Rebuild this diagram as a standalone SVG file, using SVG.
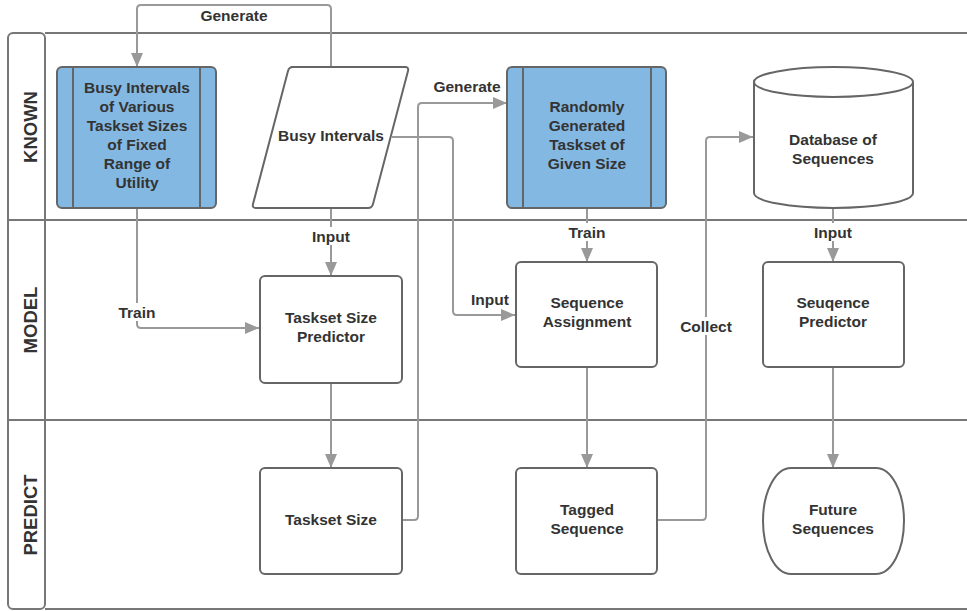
<svg xmlns="http://www.w3.org/2000/svg" width="967" height="611" viewBox="0 0 967 611">
<defs>
<style>
.lane{fill:none;stroke:#777;stroke-width:2}
.lanet{font-family:"Liberation Sans",Arial,sans-serif;font-weight:bold;font-size:18.5px;fill:#333;text-anchor:middle;dominant-baseline:central}
.box{fill:#fff;stroke:#666;stroke-width:2}
.blue{fill:#83b8e2;stroke:#666;stroke-width:2}
.t{font-family:"Liberation Sans",Arial,sans-serif;font-weight:bold;font-size:15.5px;fill:#333;text-anchor:middle;dominant-baseline:central}
.c{fill:none;stroke:#999;stroke-width:2;stroke-linejoin:round}
.lb{fill:#fff}
</style>
<marker id="ah" markerUnits="userSpaceOnUse" markerWidth="15" markerHeight="12" refX="14" refY="6" orient="auto">
<path d="M0,0 L14,6 L0,12 Z" fill="#999"/>
</marker>
</defs>
<rect width="967" height="611" fill="#fff"/>

<g id="lanes">
<rect class="lane" x="8" y="33" width="37" height="576" rx="5"/>
<path class="lane" d="M45,33 H969 M45,609 H969 M8,220 H969 M8,420 H969"/>
<text class="lanet" transform="translate(30,127) rotate(-90)">KNOWN</text>
<text class="lanet" transform="translate(30,320) rotate(-90)">MODEL</text>
<text class="lanet" transform="translate(30,515) rotate(-90)">PREDICT</text>
</g>

<g id="connectors">
<path class="c" d="M331,67 V9 Q331,5 327,5 H141 Q137,5 137,9 V67" marker-end="url(#ah)"/>
<path class="c" d="M402,520 H414 Q418,520 418,516 V107 Q418,103 422,103 H507" marker-end="url(#ah)"/>
<path class="c" d="M392,137 H449 Q453,137 453,141 V311 Q453,315 457,315 H515" marker-end="url(#ah)"/>
<path class="c" d="M331,208 V276" marker-end="url(#ah)"/>
<path class="c" d="M137,208 V324 Q137,328 141,328 H259" marker-end="url(#ah)"/>
<path class="c" d="M331,383 V468" marker-end="url(#ah)"/>
<path class="c" d="M587,208 V262" marker-end="url(#ah)"/>
<path class="c" d="M587,367 V468" marker-end="url(#ah)"/>
<path class="c" d="M657,520 H702 Q706,520 706,516 V141 Q706,137 710,137 H753" marker-end="url(#ah)"/>
<path class="c" d="M833,208 V262" marker-end="url(#ah)"/>
<path class="c" d="M833,367 V468" marker-end="url(#ah)"/>
<text class="t" x="234" y="15">Generate</text>
<text class="t" x="467" y="86">Generate</text>
<rect class="lb" x="309" y="227" width="44" height="18"/>
<text class="t" x="331" y="236">Input</text>
<rect class="lb" x="116" y="303" width="42" height="18"/>
<text class="t" x="137" y="312">Train</text>
<text class="t" x="490" y="299">Input</text>
<rect class="lb" x="565" y="223" width="44" height="18"/>
<text class="t" x="587" y="232">Train</text>
<rect class="lb" x="678" y="317" width="56" height="18"/>
<text class="t" x="706" y="326">Collect</text>
<rect class="lb" x="811" y="223" width="44" height="18"/>
<text class="t" x="833" y="232">Input</text>
</g>

<g id="busy-intervals-various">
<rect class="blue" x="57" y="67" width="159" height="141" rx="5"/>
<path d="M73,67 V208 M200,67 V208" stroke="#666" stroke-width="2"/>
<text class="t" x="137" y="87">Busy Intervals</text>
<text class="t" x="137" y="106">of Various</text>
<text class="t" x="137" y="125">Taskset Sizes</text>
<text class="t" x="137" y="144">of Fixed</text>
<text class="t" x="137" y="163">Range of</text>
<text class="t" x="137" y="182">Utility</text>
</g>

<g id="busy-intervals">
<path class="box" d="M291,67 H405 Q409,67 408,71 L373,204 Q372,208 368,208 H256 Q252,208 253,204 L288,71 Q289,67 293,67 Z"/>
<text class="t" x="331" y="135">Busy Intervals</text>
</g>

<g id="randomly-generated">
<rect class="blue" x="507" y="67" width="159" height="141" rx="5"/>
<path d="M523,67 V208 M651,67 V208" stroke="#666" stroke-width="2"/>
<text class="t" x="587" y="106">Randomly</text>
<text class="t" x="587" y="125">Generated</text>
<text class="t" x="587" y="144">Taskset of</text>
<text class="t" x="587" y="163">Given Size</text>
</g>

<g id="database">
<path class="box" d="M754,82 A79.5,15 0 0 1 913,82 V193 A79.5,15 0 0 1 754,193 Z"/>
<path class="box" d="M754,82 A79.5,15 0 0 0 913,82" fill="none"/>
<text class="t" x="833" y="139">Database of</text>
<text class="t" x="833" y="158">Sequences</text>
</g>

<g id="taskset-size-predictor">
<rect class="box" x="260" y="276" width="142" height="107" rx="5"/>
<text class="t" x="331" y="317">Taskset Size</text>
<text class="t" x="331" y="336">Predictor</text>
</g>

<g id="sequence-assignment">
<rect class="box" x="516" y="262" width="141" height="105" rx="5"/>
<text class="t" x="587" y="302">Sequence</text>
<text class="t" x="587" y="321">Assignment</text>
</g>

<g id="sequence-predictor">
<rect class="box" x="763" y="262" width="141" height="105" rx="5"/>
<text class="t" x="833" y="302">Seuqence</text>
<text class="t" x="833" y="321">Predictor</text>
</g>

<g id="taskset-size">
<rect class="box" x="260" y="468" width="142" height="106" rx="5"/>
<text class="t" x="331" y="519">Taskset Size</text>
</g>

<g id="tagged-sequence">
<rect class="box" x="516" y="468" width="141" height="106" rx="5"/>
<text class="t" x="587" y="509">Tagged</text>
<text class="t" x="587" y="528">Sequence</text>
</g>

<g id="future-sequences">
<path class="box" d="M791,468 H876 A28,53 0 0 1 876,574 H791 A28,53 0 0 1 791,468 Z"/>
<text class="t" x="833" y="509">Future</text>
<text class="t" x="833" y="528">Sequences</text>
</g>
</svg>
